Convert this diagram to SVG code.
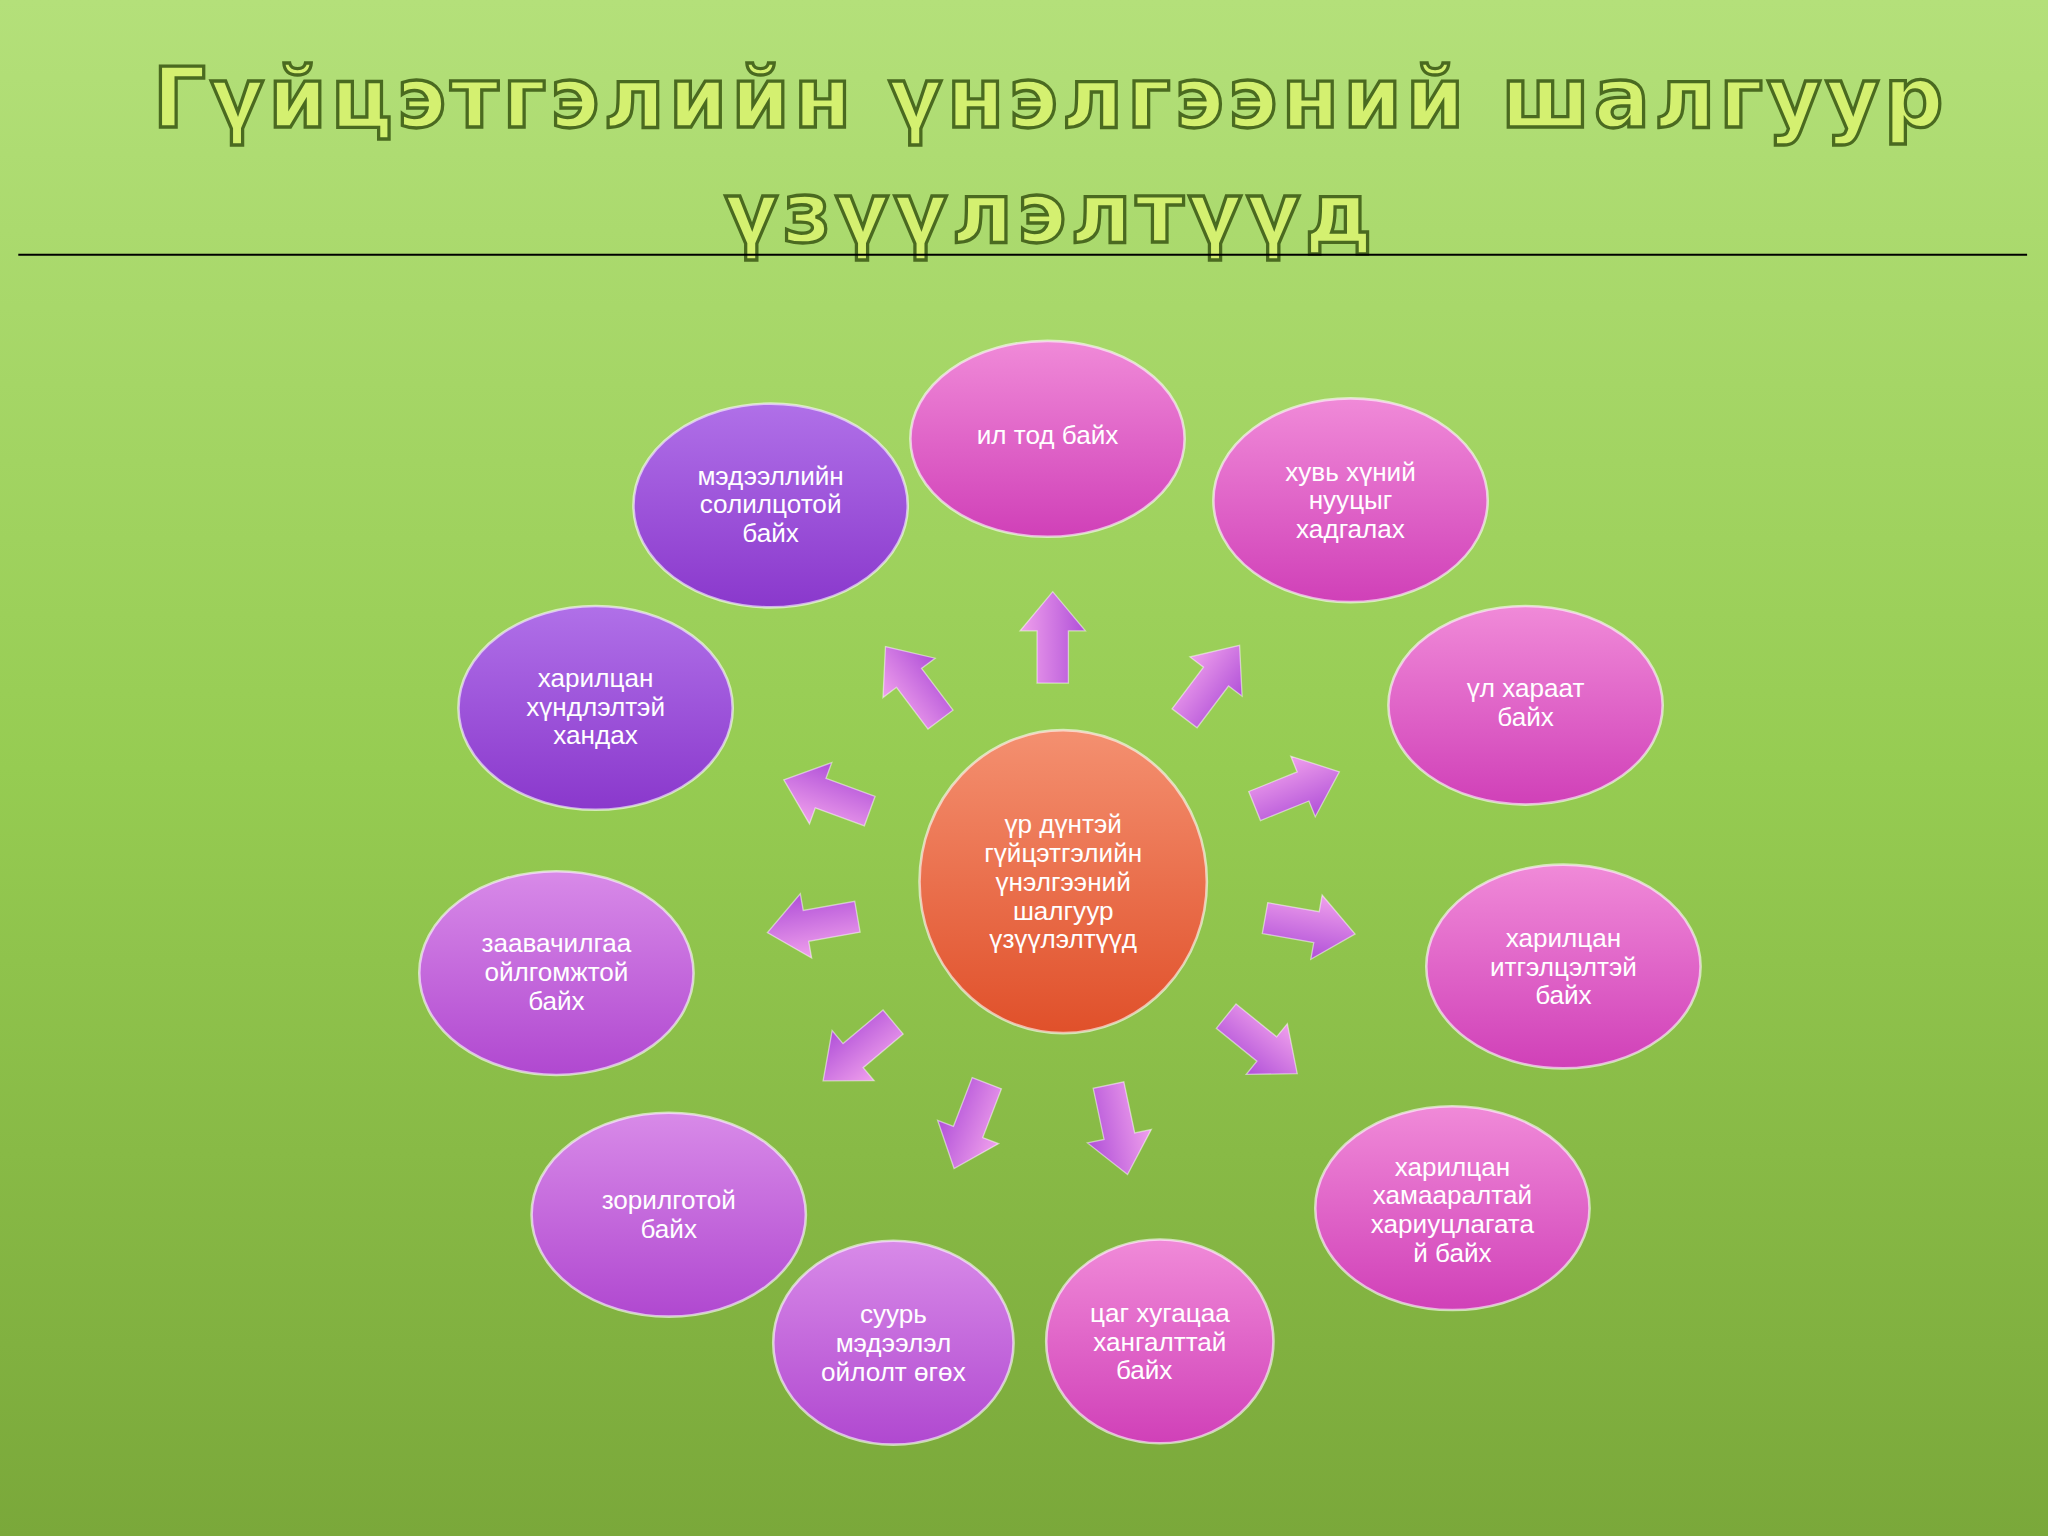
<svg xmlns="http://www.w3.org/2000/svg" width="2048" height="1536" viewBox="0 0 2048 1536">
<defs>
<linearGradient id="bg" x1="0" y1="0" x2="0" y2="1"><stop offset="0" stop-color="#b4e07a"/><stop offset="0.5" stop-color="#96cc52"/><stop offset="1" stop-color="#7aa83a"/></linearGradient>
<linearGradient id="pink" x1="0" y1="0" x2="0" y2="1"><stop offset="0" stop-color="#f08ad8"/><stop offset="1" stop-color="#d040b8"/></linearGradient>
<linearGradient id="purple" x1="0" y1="0" x2="0" y2="1"><stop offset="0" stop-color="#b070e8"/><stop offset="1" stop-color="#8a38cc"/></linearGradient>
<linearGradient id="mauve" x1="0" y1="0" x2="0" y2="1"><stop offset="0" stop-color="#d88ae8"/><stop offset="1" stop-color="#b048d0"/></linearGradient>
<linearGradient id="orange" x1="0" y1="0" x2="0" y2="1"><stop offset="0" stop-color="#f49070"/><stop offset="1" stop-color="#e0502a"/></linearGradient>
<linearGradient id="arr" x1="0" y1="0" x2="0" y2="1"><stop offset="0" stop-color="#f0a0ec"/><stop offset="1" stop-color="#b050d8"/></linearGradient>
<style>
.n{stroke:#ffffff;stroke-opacity:0.6;stroke-width:2}
.t{font-family:"Liberation Sans",Arial,sans-serif;font-size:20px;fill:#ffffff;text-anchor:middle}
.a{fill:url(#arr);stroke:#ffffff;stroke-opacity:0.5;stroke-width:1}
.title{font-family:"DejaVu Sans",sans-serif;font-weight:bold;font-size:64px;fill:#d4f070;stroke:#4a6a20;stroke-width:2.5;text-anchor:middle;letter-spacing:3px}
</style>
<path id="ar" d="M-35,-12 L5,-12 L5,-25 L35,0 L5,25 L5,12 L-35,12 Z"/>
</defs>
<rect width="2048" height="1536" fill="url(#bg)"/>
<g transform="scale(1.306122)">
<text class="title" x="804" y="97">Гүйцэтгэлийн үнэлгээний шалгуур</text>
<text class="title" x="804" y="185">үзүүлэлтүүд</text>
<line x1="14" y1="195" x2="1552" y2="195" stroke="#000" stroke-width="1.5"/>
<g id="connectors">
<use href="#ar" class="a" transform="translate(806,488) rotate(-90)"/>
<use href="#ar" class="a" transform="translate(928,522) rotate(-53)"/>
<use href="#ar" class="a" transform="translate(993,604) rotate(-22)"/>
<use href="#ar" class="a" transform="translate(1003,709) rotate(10)"/>
<use href="#ar" class="a" transform="translate(966,800) rotate(39)"/>
<use href="#ar" class="a" transform="translate(856,865) rotate(78)"/>
<use href="#ar" class="a" transform="translate(743,862) rotate(111)"/>
<use href="#ar" class="a" transform="translate(657,805) rotate(140)"/>
<use href="#ar" class="a" transform="translate(622,708) rotate(170)"/>
<use href="#ar" class="a" transform="translate(633,609) rotate(200)"/>
<use href="#ar" class="a" transform="translate(699,523) rotate(233)"/>
</g>
<g id="center"><ellipse class="n" cx="814" cy="675" rx="110" ry="116" fill="url(#orange)"/>
<text class="t" x="814" y="638">үр дүнтэй</text><text class="t" x="814" y="660">гүйцэтгэлийн</text><text class="t" x="814" y="682">үнэлгээний</text><text class="t" x="814" y="704">шалгуур</text><text class="t" x="814" y="726">үзүүлэлтүүд</text></g>
<g id="n1"><ellipse class="n" cx="802" cy="336" rx="105" ry="75" fill="url(#pink)"/><text class="t" x="802" y="340">ил тод байх</text></g>
<g id="n2"><ellipse class="n" cx="1034" cy="383" rx="105" ry="78" fill="url(#pink)"/><text class="t" x="1034" y="368">хувь хүний</text><text class="t" x="1034" y="390">нууцыг</text><text class="t" x="1034" y="412">хадгалах</text></g>
<g id="n3"><ellipse class="n" cx="1168" cy="540" rx="105" ry="76" fill="url(#pink)"/><text class="t" x="1168" y="534">үл хараат</text><text class="t" x="1168" y="556">байх</text></g>
<g id="n4"><ellipse class="n" cx="1197" cy="740" rx="105" ry="78" fill="url(#pink)"/><text class="t" x="1197" y="725">харилцан</text><text class="t" x="1197" y="747">итгэлцэлтэй</text><text class="t" x="1197" y="769">байх</text></g>
<g id="n5"><ellipse class="n" cx="1112" cy="925" rx="105" ry="78" fill="url(#pink)"/><text class="t" x="1112" y="900">харилцан</text><text class="t" x="1112" y="922">хамааралтай</text><text class="t" x="1112" y="944">хариуцлагата</text><text class="t" x="1112" y="966">й байх</text></g>
<g id="n6"><ellipse class="n" cx="888" cy="1027" rx="87" ry="78" fill="url(#pink)"/><text class="t" x="888" y="1012">цаг хугацаа</text><text class="t" x="888" y="1034">хангалттай</text><text class="t" x="876" y="1056">байх</text></g>
<g id="n7"><ellipse class="n" cx="684" cy="1028" rx="92" ry="78" fill="url(#mauve)"/><text class="t" x="684" y="1013">суурь</text><text class="t" x="684" y="1035">мэдээлэл</text><text class="t" x="684" y="1057">ойлолт өгөх</text></g>
<g id="n8"><ellipse class="n" cx="512" cy="930" rx="105" ry="78" fill="url(#mauve)"/><text class="t" x="512" y="926">зорилготой</text><text class="t" x="512" y="948">байх</text></g>
<g id="n9"><ellipse class="n" cx="426" cy="745" rx="105" ry="78" fill="url(#mauve)"/><text class="t" x="426" y="729">заавачилгаа</text><text class="t" x="426" y="751">ойлгомжтой</text><text class="t" x="426" y="773">байх</text></g>
<g id="n10"><ellipse class="n" cx="456" cy="542" rx="105" ry="78" fill="url(#purple)"/><text class="t" x="456" y="526">харилцан</text><text class="t" x="456" y="548">хүндлэлтэй</text><text class="t" x="456" y="570">хандах</text></g>
<g id="n11"><ellipse class="n" cx="590" cy="387" rx="105" ry="78" fill="url(#purple)"/><text class="t" x="590" y="371">мэдээллийн</text><text class="t" x="590" y="393">солилцотой</text><text class="t" x="590" y="415">байх</text></g>
</g>
</svg>
